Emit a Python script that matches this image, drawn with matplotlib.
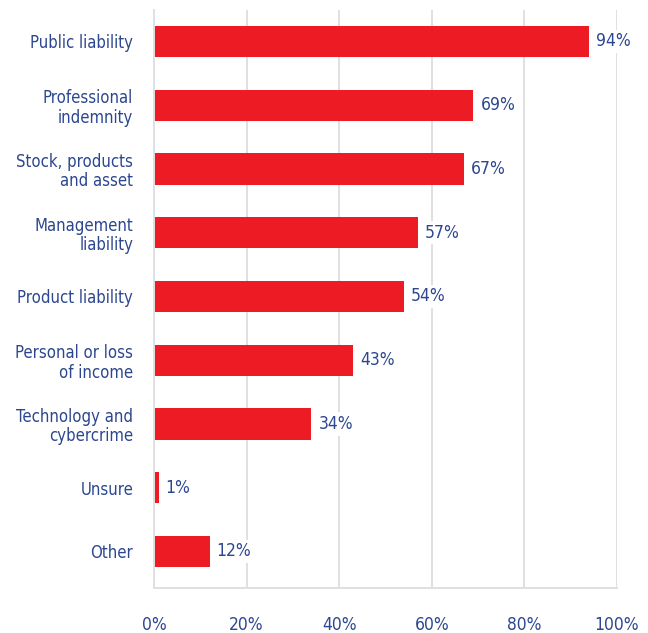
import matplotlib
matplotlib.use("Agg")
import matplotlib.pyplot as plt

plt.rcParams['font.family'] = ['DejaVu Sans']
plt.rcParams['font.stretch'] = 'condensed'

categories = ["Public liability", "Professional\nindemnity", "Stock, products\nand asset",
              "Management\nliability", "Product liability", "Personal or loss\nof income",
              "Technology and\ncybercrime", "Unsure", "Other"]
shares = [94, 69, 67, 57, 54, 43, 34, 1, 12]
ticks = [0, 20, 40, 60, 80, 100]
tick_labels = ["0%", "20%", "40%", "60%", "80%", "100%"]

RED = "#ed1c24"
NAVY = "#2c4790"
GRID = "#e0e0e0"

fig = plt.figure(figsize=(6.48, 6.33), dpi=100)
ax = fig.add_axes([154/648, 1 - 588/633, (617 - 154)/648, (588 - 10)/633])

pos = list(range(len(categories)))
ax.barh(pos, shares, height=0.49, color=RED, zorder=2)

# value labels sit on a white patch so the gridlines break behind them
for y, v in zip(pos, shares):
    ax.annotate(f"{v}%", (v, y), xytext=(5, 0), textcoords="offset points",
                ha="left", va="center", fontsize=12.5, color=NAVY, zorder=3,
                bbox=dict(boxstyle="square,pad=0.15", fc="white", ec="none"))

ax.set_xlim(0, 100)
ax.set_ylim(8.573, -0.494)
ax.set_xticks(ticks)
ax.set_xticklabels(tick_labels)
ax.set_yticks(pos)
ax.set_yticklabels(categories, linespacing=1.1)

ax.set_axisbelow(True)
ax.grid(axis="x", color=GRID, linewidth=1.4)
for side in ["top", "right"]:
    ax.spines[side].set_visible(False)
for side in ["left", "bottom"]:
    ax.spines[side].set_color(GRID)
    ax.spines[side].set_linewidth(1.4)

ax.tick_params(axis="x", length=0, pad=20, labelsize=12.5, labelcolor=NAVY)
ax.tick_params(axis="y", length=0, pad=15, labelsize=12, labelcolor=NAVY)

fig.savefig("out.png", dpi=100)
